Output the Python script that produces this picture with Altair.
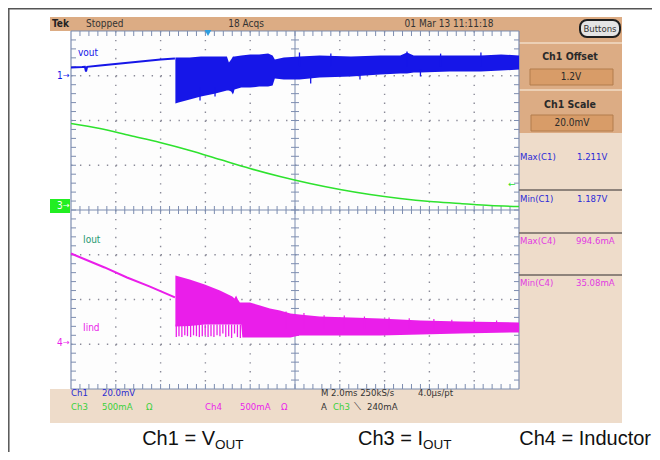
import altair as alt
import pandas as pd

# ---------------- readings from the screen ----------------
# horizontal: 2.0 ms/div over 10 div -> 0..20 ms ; vertical grid: 8 div (-4..4)
ch1_scale_v, ch1_offset_v, ch1_pos = 0.020, 1.2, 3.0     # Ch1 20.0 mV/div, offset 1.2 V
ch3_scale_a, ch3_pos = 0.5, 0.0                          # Ch3 500 mA/div
ch4_scale_a, ch4_pos = 0.5, -2.96                        # Ch4 500 mA/div

# Ch1 Vout (V) before the load step
vout_t = [0.0, 0.5, 0.62, 0.67, 0.72, 1.3, 2.2, 3.1, 4.0, 4.64]
vout_v = [1.2037, 1.2039, 1.2040, 1.2019, 1.2040, 1.2046, 1.2055, 1.2064, 1.2073, 1.2077]
# Ch1 Vout ripple envelope (V) after the step
vout_band_t = [4.66, 4.8, 5.3, 5.8, 6.4, 6.96, 7.05, 7.15, 7.23, 7.3, 7.6, 8.0, 8.4, 8.8, 9.0,
               9.1, 9.5, 10.2, 11.1, 12.5, 13.8, 14.7, 15.0, 15.3, 15.6, 16.9, 18.3, 19.2, 20.0]
vout_band_hi = [1.2082, 1.2082, 1.2082, 1.2086, 1.2086, 1.2086, 1.2059, 1.2073, 1.2086, 1.2086,
                1.2091, 1.2095, 1.2095, 1.2099, 1.2091, 1.2073, 1.2082, 1.2086, 1.2091, 1.2086,
                1.2091, 1.2091, 1.2104, 1.2091, 1.2091, 1.2091, 1.2091, 1.2095, 1.2091]
vout_band_lo = [1.1876, 1.1880, 1.1894, 1.1907, 1.1920, 1.1934, 1.1934, 1.1930, 1.1916, 1.1939,
                1.1947, 1.1947, 1.1952, 1.1952, 1.1956, 1.1988, 1.1983, 1.1983, 1.1992, 1.1997,
                1.2006, 1.2010, 1.2010, 1.2015, 1.2015, 1.2019, 1.2019, 1.2023, 1.2028]
# isolated Vout ripple spikes beyond the envelope (time ms, from V, to V)
vout_spike_t = [5.76, 6.43, 7.23, 10.2, 10.7, 11.6, 12.9, 15.0, 15.6, 16.5, 18.3]
vout_spike_from = [1.1950, 1.1950, 1.1960, 1.2040, 1.2000, 1.2040, 1.2010, 1.2040, 1.2030, 1.2040, 1.2040]
vout_spike_to = [1.1889, 1.1907, 1.1925, 1.2104, 1.1965, 1.2099, 1.1983, 1.2108, 1.1997, 1.2099, 1.2104]

# Ch3 Iout (A)
iout_t = [0.0, 1.29, 2.63, 3.97, 5.31, 6.65, 7.99, 9.33, 10.67, 12.01, 13.35, 14.69, 16.03, 17.37, 18.71, 20.0]
iout_a = [0.967, 0.911, 0.832, 0.754, 0.665, 0.564, 0.464, 0.374, 0.296, 0.229, 0.173, 0.129, 0.095, 0.073, 0.050, 0.039]

# Ch4 inductor current (A)
iind_t = [0.0, 1.5, 2.5, 3.5, 4.64]
iind_a = [0.994, 0.838, 0.726, 0.626, 0.503]
iind_band_t = [4.66, 5.3, 5.97, 6.65, 7.2, 7.3, 7.37, 7.45, 7.54, 7.6, 7.65, 7.99, 8.44, 8.88,
               9.33, 9.8, 10.2, 11.1, 12.5, 13.8, 15.6, 17.4, 20.0]
iind_band_hi = [0.749, 0.704, 0.648, 0.581, 0.514, 0.492, 0.525, 0.480, 0.447, 0.447, 0.447, 0.447,
                0.413, 0.380, 0.358, 0.324, 0.313, 0.291, 0.279, 0.268, 0.246, 0.235, 0.223]
iind_band_lo = [0.179, 0.185, 0.201, 0.201, 0.201, 0.201, 0.201, 0.201, 0.201, 0.201, 0.056, 0.056,
                0.056, 0.056, 0.056, 0.056, 0.078, 0.078, 0.078, 0.078, 0.089, 0.101, 0.112]
iind_spike_t = [4.70, 4.82, 4.95, 5.08, 5.20, 5.34, 5.47, 5.60, 5.73, 5.86, 5.99, 6.12,
                6.25, 6.38, 6.52, 6.65, 6.78, 6.91, 7.04, 7.17, 7.30, 7.43, 7.56]
iind_spike_lo = [0.06, 0.07, 0.06, 0.08, 0.07, 0.06, 0.08, 0.07, 0.06, 0.07, 0.08, 0.06,
                 0.07, 0.06, 0.08, 0.07, 0.10, 0.06, 0.07, 0.05, 0.10, 0.06, 0.05]
# upward ripple peaks on the inductor current band (time ms, peak A)
iind_peak_t = [9.6, 10.4, 11.3, 12.2, 13.1, 14.2, 15.1, 16.2, 17.0, 18.0, 19.0]
iind_peak_a = [0.345, 0.330, 0.305, 0.300, 0.290, 0.280, 0.270, 0.262, 0.255, 0.250, 0.245]

# grid
minor_t = [round(0.4 * k, 2) for k in range(1, 50)]
minor_d = [round(-4 + 0.2 * k, 2) for k in range(1, 40)]
major_t = [2, 4, 6, 8, 12, 14, 16, 18]
major_d = [-3, -2, -1, 1, 2, 3]

# ---------------- styling ----------------
BLUE, GREEN, MAG = "#1616e8", "#2ee22e", "#ea1eea"
GC, DC = "#7d8db0", "#8a8a98"
TAN, LTAN = "#dcac84", "#eedcca"
SF = "Liberation Sans Narrow, DejaVu Sans Condensed, Liberation Sans, sans-serif"
CF = "Liberation Sans, Arial, sans-serif"

W, H = 448, 358
OX, OY = 71, 31          # page position of the grid's top-left corner
SVG_W, SVG_H = 644, 444  # whole drawing (page minus 8px margins)


def X(p):
    return p - OX


def Y(p):
    return p - OY


one = pd.DataFrame({"k": [0]})
xs = alt.Scale(domain=[0, 20], nice=False, zero=False)
ys = alt.Scale(domain=[-4, 4], nice=False, zero=False)


def xq(f):
    return alt.X(f"{f}:Q", scale=xs, axis=None)


def yq(f):
    return alt.Y(f"{f}:Q", scale=ys, axis=None)


def box(x1, y1, x2, y2, fill, stroke=None, sw=0, r=0):
    kw = dict(fill=fill)
    if stroke:
        kw.update(stroke=stroke, strokeWidth=sw)
    if r:
        kw["cornerRadius"] = r
    return alt.Chart(one).mark_rect(**kw).encode(
        x=alt.value(X(x1)), x2=alt.value(X(x2)), y=alt.value(Y(y1)), y2=alt.value(Y(y2)))


def label(s, x, y, color="#333333", size=9.5, align="left", weight="normal", font=SF, baseline="middle"):
    return alt.Chart(one).mark_text(text=s, align=align, baseline=baseline, fontSize=size,
                                    fontWeight=weight, font=font, color=color).encode(
        x=alt.value(X(x)), y=alt.value(Y(y)))


def hl(x1, x2, y, color, sw=1.0):
    return alt.Chart(one).mark_rule(color=color, strokeWidth=sw).encode(
        x=alt.value(X(x1)), x2=alt.value(X(x2)), y=alt.value(Y(y)))


def vl(x, y1, y2, color, sw=1.0):
    return alt.Chart(one).mark_rule(color=color, strokeWidth=sw).encode(
        x=alt.value(X(x)), y=alt.value(Y(y1)), y2=alt.value(Y(y2)))


layers = []
# outer frame
layers += [hl(8, 652, 8.8, "#555555", 1.5), vl(8.8, 8, 452, "#555555", 1.5)]
# scope panels
layers += [
    box(50, 17, 622, 31, TAN),
    box(519, 31, 622, 133, TAN),
    hl(519, 622, 43, "#f2dcc6", 1.5),
    hl(519, 622, 90, "#f2dcc6", 1.5),
    box(519, 133, 622, 389, LTAN),
    box(50, 389, 622, 423, LTAN),
    box(71, 31, 519, 389, "#fdfdfd"),
]

# grid
tick_t = pd.DataFrame({"t": minor_t})
tick_d = pd.DataFrame({"d": minor_d})
layers += [
    alt.Chart(pd.DataFrame({"t": major_t})).mark_rule(color=DC, strokeWidth=1.4, strokeDash=[1.4, 7.55]).encode(
        x=xq("t"), y=alt.value(0), y2=alt.value(H)),
    alt.Chart(pd.DataFrame({"d": major_d})).mark_rule(color=DC, strokeWidth=1.4, strokeDash=[1.4, 7.56]).encode(
        y=yq("d"), x=alt.value(0), x2=alt.value(W)),
    alt.Chart(pd.DataFrame({"t": [10]})).mark_rule(color=GC, strokeWidth=1).encode(
        x=xq("t"), y=alt.value(0), y2=alt.value(H)),
    alt.Chart(pd.DataFrame({"d": [0]})).mark_rule(color=GC, strokeWidth=1).encode(
        y=yq("d"), x=alt.value(0), x2=alt.value(W)),
    alt.Chart(tick_t).mark_rule(color=GC).encode(x=xq("t"), y=alt.value(0), y2=alt.value(5)),
    alt.Chart(tick_t).mark_rule(color=GC).encode(x=xq("t"), y=alt.value(H), y2=alt.value(H - 5)),
    alt.Chart(tick_t).mark_rule(color=GC).encode(x=xq("t"), y=alt.value(H / 2 - 4), y2=alt.value(H / 2 + 4)),
    alt.Chart(tick_d).mark_rule(color=GC).encode(y=yq("d"), x=alt.value(0), x2=alt.value(5)),
    alt.Chart(tick_d).mark_rule(color=GC).encode(y=yq("d"), x=alt.value(W), x2=alt.value(W - 5)),
    alt.Chart(tick_d).mark_rule(color=GC).encode(y=yq("d"), x=alt.value(W / 2 - 4), x2=alt.value(W / 2 + 4)),
    hl(71, 519, 31, GC, 1.2), hl(71, 519, 389, GC, 1.2),
    vl(71, 31, 389, GC, 1.2), vl(519, 31, 389, GC, 1.2),
]

# ---------------- waveforms ----------------
def d1(v):
    return (v - ch1_offset_v) / ch1_scale_v + ch1_pos


def d3(a):
    return a / ch3_scale_a + ch3_pos


def d4(a):
    return a / ch4_scale_a + ch4_pos


df_vout = pd.DataFrame({"t": vout_t, "d": [d1(v) for v in vout_v]})
df_vband = pd.DataFrame({"t": vout_band_t, "hi": [d1(v) for v in vout_band_hi],
                         "lo": [d1(v) for v in vout_band_lo]})
df_vspk = pd.DataFrame({"t": vout_spike_t, "hi": [d1(v) for v in vout_spike_from],
                        "lo": [d1(v) for v in vout_spike_to]})
df_iout = pd.DataFrame({"t": iout_t, "d": [d3(a) for a in iout_a]})
df_iind = pd.DataFrame({"t": iind_t, "d": [d4(a) for a in iind_a]})
df_iband = pd.DataFrame({"t": iind_band_t, "hi": [d4(a) for a in iind_band_hi],
                         "lo": [d4(a) for a in iind_band_lo]})
df_ispk = pd.DataFrame({"t": iind_spike_t, "hi": [d4(0.2)] * len(iind_spike_t),
                        "lo": [d4(a) for a in iind_spike_lo]})
df_ipk = pd.DataFrame({"t": iind_peak_t, "hi": [d4(a) for a in iind_peak_a],
                       "lo": [d4(0.15)] * len(iind_peak_t)})

layers += [
    alt.Chart(df_iout).mark_line(color=GREEN, strokeWidth=1.6, interpolate="monotone").encode(x=xq("t"), y=yq("d")),
    alt.Chart(df_iind).mark_line(color=MAG, strokeWidth=2).encode(x=xq("t"), y=yq("d")),
    alt.Chart(df_iband).mark_area(color=MAG, opacity=1).encode(x=xq("t"), y=yq("hi"), y2=alt.Y2("lo")),
    alt.Chart(df_ispk).mark_rule(color=MAG, strokeWidth=1.3).encode(x=xq("t"), y=yq("hi"), y2=alt.Y2("lo")),
    alt.Chart(df_ipk).mark_rule(color=MAG, strokeWidth=1.2).encode(x=xq("t"), y=yq("hi"), y2=alt.Y2("lo")),
    alt.Chart(df_vout).mark_line(color=BLUE, strokeWidth=2).encode(x=xq("t"), y=yq("d")),
    alt.Chart(df_vband).mark_area(color=BLUE, opacity=1).encode(x=xq("t"), y=yq("hi"), y2=alt.Y2("lo")),
    alt.Chart(df_vspk).mark_rule(color=BLUE, strokeWidth=1.3).encode(x=xq("t"), y=yq("hi"), y2=alt.Y2("lo")),
]

# ---------------- markers and on-screen labels ----------------
layers += [
    alt.Chart(one).mark_point(shape="triangle-down", filled=True, color="#2c9ee0", size=45, opacity=1).encode(
        x=alt.value(X(208)), y=alt.value(Y(33))),
    label("vout", 78, 53, BLUE, 10),
    label("Iout", 83, 240, "#1f9a70", 10),
    label("Iind", 83, 328, MAG, 10),
    label("1", 57, 76, BLUE, 10),
    label("\u2192", 63, 76, BLUE, 8, font="DejaVu Sans"),
    box(50, 199, 70, 213, "#22ee22"),
    label("3", 57, 206, "#ffffff", 10),
    label("\u2192", 63, 206, "#ffffff", 8, font="DejaVu Sans"),
    label("4", 57, 343, MAG, 10),
    label("\u2192", 63, 343, MAG, 8, font="DejaVu Sans"),
    label("\u2190", 508, 184, GREEN, 9, font="DejaVu Sans"),
]

# header
layers += [
    label("Tek", 52, 24, "#222222", 10, weight="bold"),
    label("Stopped", 86, 24, "#333333", 10),
    label("18 Acqs", 246, 24, "#333333", 10, align="center"),
    label("01 Mar 13 11:11:18", 449, 24, "#333333", 10, align="center"),
    box(580, 20, 620, 37, "#e4e4e4", "#1e1e1e", 2, 7),
    label("Buttons", 600, 28.5, "#333333", 9.5, align="center"),
]

# right panel
layers += [
    label("Ch1 Offset", 570, 57, "#2a2a2a", 10.5, align="center", weight="bold"),
    box(530, 69, 613, 85, "#d89c68", "#b27c4c", 1),
    label("1.2V", 571, 77, "#2a2a2a", 10, align="center"),
    label("Ch1 Scale", 570, 105, "#2a2a2a", 10.5, align="center", weight="bold"),
    box(531, 115, 613, 131, "#d89c68", "#b27c4c", 1),
    label("20.0mV", 572, 123, "#2a2a2a", 10, align="center"),
    hl(519, 622, 190, "#6e6660", 1.5),
    hl(519, 622, 233, "#6e6660", 1.5),
    hl(519, 622, 275, "#6e6660", 1.5),
    label("Max(C1)", 520, 157, "#2a2ad8", 9.5),
    label("1.211V", 577, 157, "#2a2ad8", 9.5),
    label("Min(C1)", 520, 199, "#2a2ad8", 9.5),
    label("1.187V", 577, 199, "#2a2ad8", 9.5),
    label("Max(C4)", 520, 241, "#e23ae2", 9.5),
    label("994.6mA", 576, 241, "#e23ae2", 9.5),
    label("Min(C4)", 520, 283, "#e23ae2", 9.5),
    label("35.08mA", 576, 283, "#e23ae2", 9.5),
]

# bottom info panel
CH3C = "#3ad03a"
layers += [
    label("Ch1", 71, 393, "#2a2ad0", 9.5),
    label("20.0mV", 102, 393, "#2a2ad0", 9.5),
    label("Ch3", 71, 407, CH3C, 9.5),
    label("500mA", 102, 407, CH3C, 9.5),
    label("\u03a9", 146, 407, CH3C, 9.5),
    label("Ch4", 205, 407, MAG, 9.5),
    label("500mA", 240, 407, MAG, 9.5),
    label("\u03a9", 281, 407, MAG, 9.5),
    label("M 2.0ms 250kS/s", 321, 393, "#333333", 9.5),
    label("4.0\u00b5s/pt", 418, 393, "#333333", 9.5),
    label("A", 321, 407, "#333333", 9.5),
    label("Ch3", 333, 407, CH3C, 9.5),
    label("\u27cd", 354, 407, "#333333", 9.5, font="DejaVu Sans"),
    label("240mA", 367, 407, "#333333", 9.5),
]

# caption
layers += [
    label("Ch1 = V", 215, 445, "#111111", 20, align="right", font=CF, baseline="alphabetic"),
    label("OUT", 215, 449, "#111111", 13.5, font=CF, baseline="alphabetic"),
    label("Ch3 = I", 423, 445, "#111111", 20, align="right", font=CF, baseline="alphabetic"),
    label("OUT", 423, 449, "#111111", 13.5, font=CF, baseline="alphabetic"),
    label("Ch4 = Inductor", 651, 445, "#111111", 20, align="right", font=CF, baseline="alphabetic"),
]

chart = alt.layer(*layers).properties(
    width=W, height=H,
    autosize=alt.AutoSizeParams(type="none"),
    padding={"left": OX - 8, "top": OY - 8, "right": SVG_W - (OX - 8) - W, "bottom": SVG_H - (OY - 8) - H},
    background="white",
).configure_view(strokeWidth=0)

chart.save("out.html", embed_options={"renderer": "svg", "actions": False})
